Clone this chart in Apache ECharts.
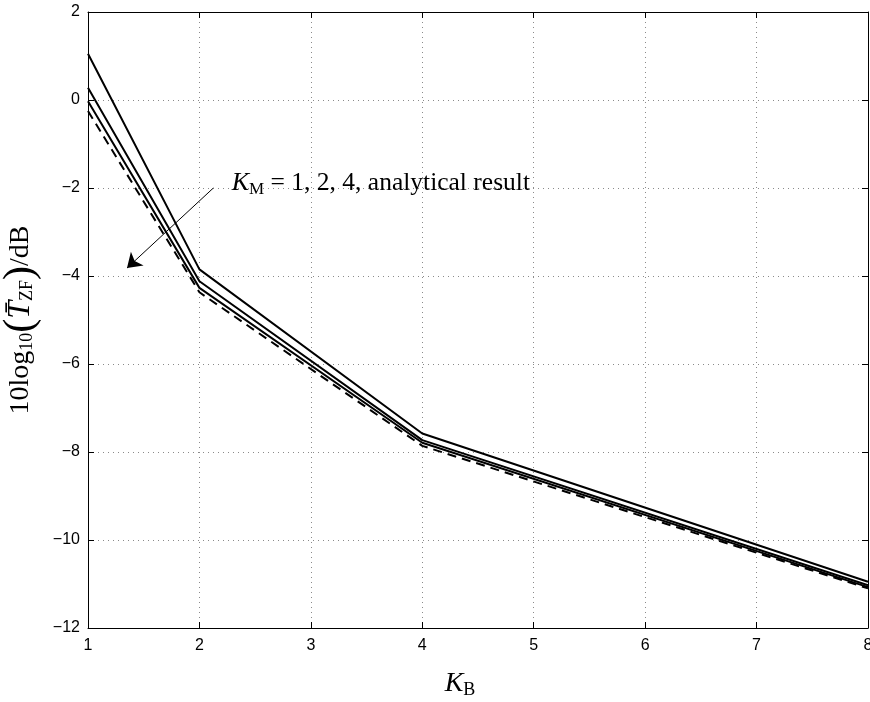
<!DOCTYPE html>
<html>
<head>
<meta charset="utf-8">
<script src="https://cdn.jsdelivr.net/npm/echarts@6/dist/echarts.min.js"></script>
<style>
  html, body { margin: 0; padding: 0; background: #fff; }
  #chart { width: 870px; height: 702px; }
</style>
</head>
<body>
<div id="chart"></div>
<script>
// Number of BS antennas K_B
const kB = [1, 2, 4, 8];
// Simulated 10log10(T_ZF) in dB for K_M = 1, 2, 4
const simKM1 = [1.05, -3.85, -7.58, -10.95];
const simKM2 = [0.28, -4.12, -7.73, -11.03];
const simKM4 = [-0.03, -4.27, -7.79, -11.07];
// Closed-form (analytical) result
const analytical = [-0.25, -4.37, -7.86, -11.10];

const xTicks = { min: 1, max: 8, interval: 1 };
const yTicks = { min: -12, max: 2, interval: 2 };

// Annotation: text anchor and arrow (data coordinates)
const noteAnchor = [2.29, -1.9];
const arrowFrom = [2.125, -2.0];
const arrowTo = [1.35, -3.82];

const pair = (ys) => kB.map((x, i) => [x, ys[i]]);

const serif = '"Liberation Serif", "DejaVu Serif", serif';
const sans = '"Liberation Sans", Arial, Helvetica, sans-serif';

const gridDots = { show: true, lineStyle: { color: '#8a8a8a', width: 1, type: [1, 4] } };
const frame = { show: true, onZero: false, lineStyle: { color: '#000', width: 1 } };
const tickIn = { show: true, inside: true, length: 6, lineStyle: { color: '#000', width: 1 } };

const solid = (name, ys) => ({
  name, type: 'line', data: pair(ys), symbol: 'none', silent: true,
  itemStyle: { color: '#000' },
  lineStyle: { color: '#000', width: 2, type: 'solid' }
});

const chart = echarts.init(document.getElementById('chart'), null, { renderer: 'canvas' });

chart.setOption({
  animation: false,
  backgroundColor: '#fff',
  grid: { left: 88, right: 2, top: 12, bottom: 74, containLabel: false, outerBoundsMode: 'none' },
  xAxis: [
    {
      type: 'value', position: 'bottom', ...xTicks,
      axisLine: frame, axisTick: tickIn, splitLine: gridDots,
      axisLabel: { color: '#000', fontFamily: sans, fontSize: 16, margin: 10 },
      name: '{i|K}{s|B}', nameLocation: 'middle', nameGap: 41,
      nameTextStyle: {
        padding: [0, 36, 0, 0],
        rich: {
          i: { fontFamily: serif, fontStyle: 'italic', fontSize: 28, color: '#000' },
          s: { fontFamily: serif, fontSize: 18, color: '#000', padding: [12, 0, 0, 0] }
        }
      }
    },
    {
      type: 'value', position: 'top', ...xTicks,
      axisLine: frame, axisTick: tickIn, splitLine: { show: false }, axisLabel: { show: false }
    }
  ],
  yAxis: [
    {
      type: 'value', position: 'left', ...yTicks,
      axisLine: frame, axisTick: tickIn, splitLine: gridDots,
      axisLabel: {
        color: '#000', fontFamily: sans, fontSize: 16, margin: 8,
        formatter: (v) => String(v).replace('-', '\u2212')
      },
      name: '{n|10log}{s|10}{p|(}{i|T\u0304}{s|ZF}{p|)}{n|/dB}',
      nameLocation: 'middle', nameGap: 41, nameRotate: 90,
      nameTextStyle: {
        rich: {
          n: { fontFamily: serif, fontSize: 28, color: '#000' },
          s: { fontFamily: serif, fontSize: 18, color: '#000', padding: [13, 0, 0, 0] },
          p: { fontFamily: serif, fontSize: 42, color: '#000' },
          i: { fontFamily: serif, fontStyle: 'italic', fontSize: 32, color: '#000' }
        }
      }
    },
    {
      type: 'value', position: 'right', ...yTicks,
      axisLine: frame, axisTick: tickIn, splitLine: { show: false }, axisLabel: { show: false }
    }
  ],
  series: [
    solid('K_M = 1', simKM1),
    solid('K_M = 2', simKM2),
    solid('K_M = 4', simKM4),
    {
      name: 'analytical result', type: 'line', data: pair(analytical), symbol: 'none', silent: true,
      itemStyle: { color: '#000' },
      lineStyle: { color: '#000', width: 2, type: [9, 6] },
      markLine: {
        silent: true, animation: false,
        symbol: ['none', 'arrow'], symbolSize: 14,
        itemStyle: { color: '#000' },
        lineStyle: { color: '#000', width: 1, type: 'solid' },
        label: { show: false },
        data: [[{ coord: arrowFrom }, { coord: arrowTo }]]
      },
      markPoint: {
        silent: true, animation: false,
        symbol: 'circle', symbolSize: 0,
        data: [{ coord: noteAnchor }],
        label: {
          show: true, position: 'right', distance: 0,
          formatter: '{i|K}{s|M}{n| = 1, 2, 4, analytical result}',
          rich: {
            i: { fontFamily: serif, fontStyle: 'italic', fontSize: 26, color: '#000' },
            s: { fontFamily: serif, fontSize: 17, color: '#000', padding: [12, 0, 0, 0] },
            n: { fontFamily: serif, fontSize: 25.5, color: '#000' }
          }
        }
      }
    }
  ]
});
</script>
</body>
</html>
